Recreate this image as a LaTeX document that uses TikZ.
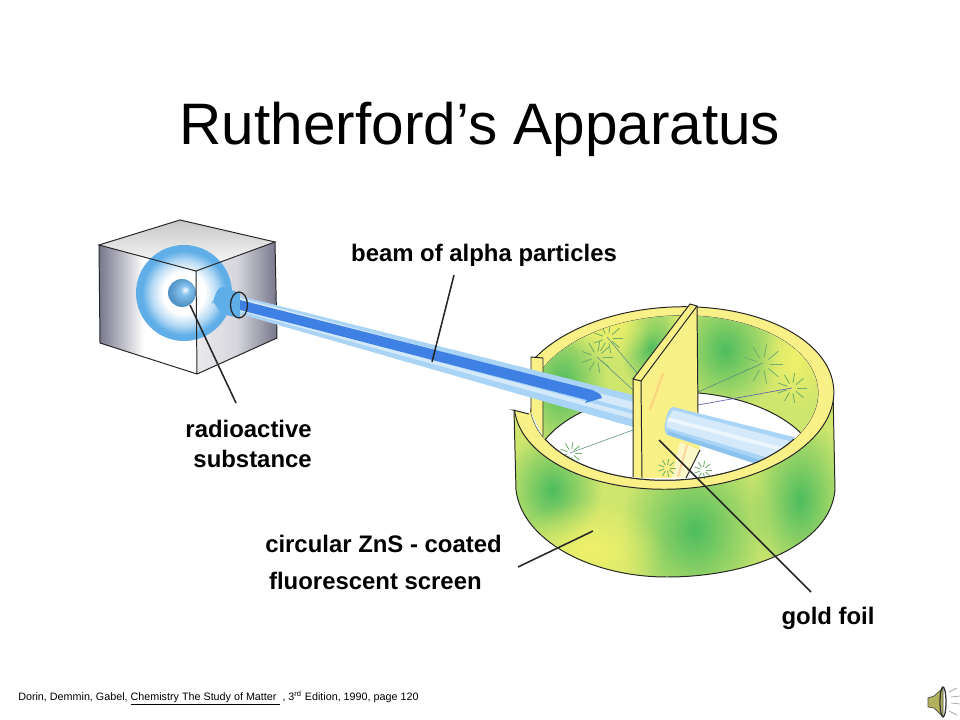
\documentclass[tikz,border=0pt]{standalone}
\usepackage{fontspec}
\setmainfont{Liberation Sans}
\usetikzlibrary{positioning,fadings}
\definecolor{rimyellow}{HTML}{F9F088}
\definecolor{wallbase}{HTML}{CFE66E}
\definecolor{wallgreen}{HTML}{3FB85C}
\definecolor{wallyellow}{HTML}{F4F26A}
\definecolor{beamlight}{HTML}{A9D4F5}
\definecolor{beamdeep}{HTML}{8CC2EE}
\definecolor{beampale}{HTML}{D4EAFA}
\definecolor{beamcore}{HTML}{3F80E4}
\definecolor{spot}{HTML}{6FAF6A}
\definecolor{cubedark}{HTML}{77778C}
\definecolor{glowblue}{HTML}{5FAEE8}
\tikzfading[name=softblob,inner color=transparent!10,outer color=transparent!100]
\pgfdeclareradialshading{sourceglow}{\pgfpoint{0bp}{0bp}}{
color(0bp)=(white); color(11bp)=(white); color(17bp)=(glowblue!45!white);
color(22bp)=(glowblue); color(25bp)=(glowblue); color(50bp)=(glowblue)}
\pgfdeclareradialshading{sourcecore}{\pgfpoint{6bp}{6bp}}{
color(0bp)=(white); color(8bp)=(glowblue!75!white); color(25bp)=(glowblue!85!black); color(50bp)=(glowblue!85!black)}
\pgfdeclarehorizontalshading{cubeleft}{100bp}{
color(0bp)=(cubedark); color(25bp)=(cubedark); color(48bp)=(white); color(75bp)=(white); color(100bp)=(white)}
\pgfdeclarehorizontalshading{cuberight}{100bp}{
color(0bp)=(white); color(25bp)=(white!85!cubedark); color(50bp)=(white!70!cubedark); color(75bp)=(cubedark); color(100bp)=(cubedark)}
\tikzset{
lbl/.style={font=\fontsize{17}{19}\bfseries\selectfont,inner sep=0pt},
leader/.style={line width=1.1pt,black!85},
edge/.style={draw=black!85,line width=.7pt},
ringturn/.style={rotate around={3:(ringc)}},
blob/.style={path fading=softblob,fill=wallgreen},
sunblob/.style={path fading=softblob,fill=wallyellow},
burst/.style={spot,line width=.6pt},
track/.style={line width=.4pt,spot!80!blue},
}
% one scintillation: centre, radius
\newcommand{\flash}[3]{\foreach \a in {0,40,...,320} \draw[burst] ([shift={(\a:#3*.35)}]#1,#2) -- ([shift={(\a:#3)}]#1,#2);}
\begin{document}
\begin{tikzpicture}[x=.025cm,y=-.025cm]
\useasboundingbox (0,0) rectangle (960,720);
\coordinate (ringc) at (674,398);
\coordinate (floorc) at (676,474);

% source
\coordinate (cubeb) at (180,220);
\coordinate (cubel) at (99,245);
\coordinate (cuber) at (275,242);
\coordinate (cubef) at (196,271);
\coordinate (cubebl) at (100,343);
\coordinate (cubebr) at (277,338);
\coordinate (cubebf) at (197,374);
\shade[shading=cubeleft] (cubel) -- (cubef) -- (cubebf) -- (cubebl) -- cycle;
\shade[shading=cuberight] (cubef) -- (cuber) -- (cubebr) -- (cubebf) -- cycle;
\shade[top color=black!22,bottom color=white] (cubeb) -- (cuber) -- (cubef) -- (cubel) -- cycle;
\shade[shading=sourceglow] (184,293) circle (48);
\shade[shading=sourcecore] (182,293) circle (14);
\fill[glowblue] (212,303) to[out=-90,in=180] (222,287) -- (240,293) -- (240,318) -- (226,315) to[out=180,in=90] (212,303);
\draw[edge] (cubel) -- (cubeb) -- (cuber) -- (cubef) -- cycle (cubel) -- (cubebl) -- (cubebf) -- (cubebr) -- (cuber) (cubef) -- (cubebf);

% outer wall
\begin{scope}
\clip (514,410) -- (516,490) .. controls (522,540) and (590,577) .. (667,577) .. controls (750,577) and (830,545) .. (835,490) -- (833,390) -- cycle;
\fill[wallbase] (500,380) rectangle (850,590);
\fill[blob] (552,490) ellipse [x radius=50,y radius=60];
\fill[blob] (695,530) ellipse [x radius=75,y radius=90];
\fill[blob] (800,500) ellipse [x radius=50,y radius=85];
\fill[sunblob] (590,550) ellipse [x radius=75,y radius=50];
\end{scope}
\draw[edge] (514,410) -- (516,490) .. controls (522,540) and (590,577) .. (667,577) .. controls (750,577) and (830,545) .. (835,490) -- (833,390);

% rim, with the gap on the left
\fill[rimyellow,even odd rule,ringturn] (ringc) ellipse [x radius=160,y radius=91] (ringc) ellipse [x radius=144,y radius=82];
\draw[edge,ringturn] (ringc) ellipse [x radius=160,y radius=91] (ringc) ellipse [x radius=144,y radius=82];

% inside
\begin{scope}
\clip[ringturn] (ringc) ellipse [x radius=144,y radius=82];
\fill[white] (500,300) rectangle (850,500);
\fill[wallbase] (543,300) rectangle (830,440);
\fill[blob] (562,385) ellipse [x radius=45,y radius=70];
\fill[blob] (725,350) ellipse [x radius=55,y radius=65];
\fill[blob] (650,345) ellipse [x radius=30,y radius=50];
\fill[sunblob] (610,325) ellipse [x radius=55,y radius=35];
\fill[sunblob] (795,360) ellipse [x radius=35,y radius=50];
\fill[white] (floorc) ellipse [x radius=144,y radius=82];
\draw[edge] (floorc) ellipse [x radius=144,y radius=82];
\draw[track] (597,357) -- (633,390) (607,337) -- (637,373) (763,363) -- (698,392) (570,453) -- (633,430);
\draw[line width=.5pt,blue!45!black!60] (792,388) -- (698,405);
\flash{597}{357}{16}
\flash{608}{338}{15}
\flash{763}{364}{20}
\flash{792}{388}{15}
\flash{571}{453}{11}
\end{scope}

% cut faces of the screen
\fill[white] (531,357) -- (543,358) -- (529,414) -- (513,410) -- (505,400) -- (505,352) -- cycle;
\fill[rimyellow] (531,357) -- (543,358) -- (543,436) -- (531,412) -- cycle;
\draw[edge] (531,412) -- (531,357) -- (543,358) -- (543,436);
\draw[edge] (514,410) -- (513,410) -- (529,414);

% beam up to the foil
\fill[beamlight] (240,296) -- (633,395) -- (633,427) -- (240,314) -- cycle;
\fill[beampale] (240,298) -- (633,402) -- (633,410) -- (240,304) -- cycle;
\fill[beampale] (240,309) -- (633,414) -- (633,419) -- (240,311) -- cycle;
\fill[beamcore] (240,300) -- (592,390) -- (600,394) -- (602,398) -- (585,403) -- (587,400) -- (240,310) -- cycle;

% foil
\fill[rimyellow] (641,381) -- (697,306) -- (698,413) -- (700,450) -- (686,478) -- (642,478) -- cycle;
\fill[white,opacity=.55] (680,442) -- (700,450) -- (686,478) -- (672,478) -- cycle;
\draw[line width=1.5pt,orange!55,opacity=.5] (663,373) -- (650,410) (687,445) -- (678,477);
\flash{667}{468}{9}
\flash{703}{470}{9}
\fill[rimyellow] (633,379) -- (690,304) -- (697,306) -- (641,381) -- cycle;
\fill[rimyellow] (633,379) -- (641,381) -- (642,478) -- (633,477) -- cycle;
\draw[edge] (642,478) -- (641,381) -- (633,379) -- (633,477);
\draw[edge] (633,379) -- (690,304) -- (697,306) -- (641,381);
\draw[edge] (697,306) -- (698,413);
\draw[edge] (700,450) -- (686,478);

% beam behind the foil
\begin{scope}
\clip[ringturn] (ringc) ellipse [x radius=144,y radius=82];
\fill[beamlight] (673,407) -- (830,446) -- (830,488) -- (668,435) to[out=190,in=90] (665,423) to[out=-90,in=180] (673,407);
\fill[beampale] (673,410) -- (830,452) -- (830,476) -- (668,428) to[out=170,in=-90] (667,420) -- cycle;
\fill[white,opacity=.6] (668,417) -- (830,460) -- (830,464) -- (668,421) -- cycle;
\fill[beamdeep] (668,435) -- (830,488) -- (830,482) -- (668,431) -- cycle;
\end{scope}
\begin{scope}
\clip (500,440) rectangle (850,500);
\draw[edge,ringturn] (ringc) ellipse [x radius=144,y radius=82];
\end{scope}

% opening of the source
\draw[line width=.9pt,black!85] (239,305) ellipse [x radius=8.5,y radius=13];

% labels
\node[font=\fontsize{41.6}{46}\selectfont,inner sep=0pt] (title) at (480,129) {Rutherford’s Apparatus};
\node[lbl] (beamlbl) at (484,255) {beam of alpha particles};
\node[lbl,anchor=east] (radio) at (312,429) {radioactive};
\node[lbl,below=8.5pt of radio.south east,anchor=north east] (subst) {substance};
\node[lbl,anchor=east] (zns) at (502,544) {circular ZnS - coated};
\node[lbl,anchor=east] (fluor) at (482,581) {fluorescent screen};
\node[lbl] (goldlbl) at (828,618) {gold foil};
\node[font=\fontsize{7.65}{9}\selectfont,inner sep=0pt,anchor=west] (credit) at (18,698) {Dorin, Demmin, Gabel, \underline{Chemistry The Study of Matter\ }\ , 3\textsuperscript{rd} Edition, 1990, page 120};

% leaders
\coordinate (beamfrom) at (454,275);
\coordinate (beamto) at (432,362);
\coordinate (radiofrom) at (236,403);
\coordinate (radioto) at (190,305);
\coordinate (znsfrom) at (518,567);
\coordinate (znsto) at (593,531);
\coordinate (goldfrom) at (811,592);
\coordinate (goldto) at (659,440);
\draw[leader] (beamfrom) -- (beamto);
\draw[leader] (radiofrom) -- (radioto);
\draw[leader] (znsfrom) -- (znsto);
\draw[leader] (goldfrom) -- (goldto);

% speaker
\fill[wallyellow!70!black!90!white] (928,698) -- (934,696) -- (943,688) -- (943,717) -- (934,708) -- (928,707) -- cycle;
\draw[black!70,line width=.5pt] (928,698) -- (934,696) -- (943,688) -- (943,717) -- (934,708) -- (928,707) -- cycle;
\draw[black!80,line width=.9pt] (943,702) ellipse [x radius=3,y radius=15];
\draw[black!35,line width=.5pt] (949,692) -- (957,688) (951,697) -- (960,696) (951,703) -- (960,704) (949,711) -- (957,715);
\end{tikzpicture}
\end{document}
